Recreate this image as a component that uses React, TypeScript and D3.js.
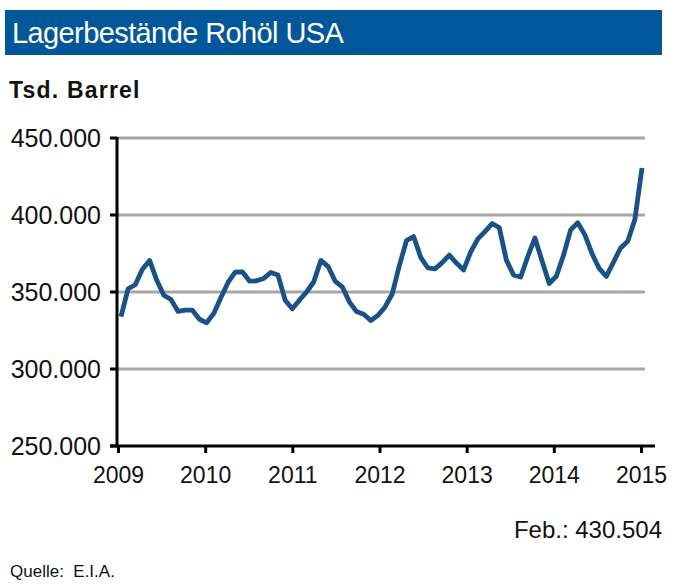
import React, { useEffect, useRef } from "react";
import * as d3 from "d3";

const title = "Lagerbestände Rohöl USA";
const unitLabel = "Tsd. Barrel";
const lastLabel = "Feb.: 430.504";
const sourceLabel = "Quelle:  E.I.A.";

// Monthly crude oil stocks, Jan 2009 – Feb 2015 (thousand barrels)
const months: string[] = [];
for (let y = 2009; y <= 2015; y++) {
  for (let m = 1; m <= 12; m++) {
    if (y === 2015 && m > 2) break;
    months.push(`${y}-${String(m).padStart(2, "0")}`);
  }
}
const stocks = [
  334.0, 352.1, 354.7, 364.7, 370.5, 357.8, 347.9, 345.1, 337.4, 338.2, 338.2, 332.3,
  330.0, 336.1, 346.4, 356.2, 362.9, 363.1, 357.1, 357.3, 358.8, 362.7, 361.0, 344.7,
  339.1, 344.7, 350.0, 356.5, 370.5, 366.7, 357.1, 353.4, 343.6, 337.3, 335.6, 331.5,
  334.8, 340.3, 348.7, 367.1, 383.4, 386.0, 372.5, 365.6, 365.0, 369.1, 374.0, 368.8,
  364.3, 376.0, 384.5, 389.2, 394.5, 391.8, 370.7, 361.0, 359.7, 373.1, 385.1, 370.1,
  355.5, 360.2, 373.8, 390.3, 395.0, 387.1, 374.9, 365.3, 360.1, 369.3, 378.6, 383.0,
  397.1, 430.5,
];
const yTicks = [250, 300, 350, 400, 450];
const yearTicks = [2009, 2010, 2011, 2012, 2013, 2014, 2015];

const fmt = (v: number) => `${v}.000`;

export default function App() {
  const ref = useRef<SVGSVGElement>(null);
  useEffect(() => {
    const svg = d3.select(ref.current);
    svg.selectAll("*").remove();
    const font = "'Liberation Sans', Arial, sans-serif";

    // title bar
    svg.append("rect").attr("x", 5).attr("y", 10).attr("width", 657).attr("height", 45).attr("fill", "#02579a");
    svg.append("text").attr("x", 12).attr("y", 43).attr("fill", "#fff")
      .attr("font-family", font).attr("font-size", 29).attr("letter-spacing", -0.6).text(title);
    svg.append("text").attr("x", 9).attr("y", 98).attr("fill", "#111")
      .attr("font-family", font).attr("font-size", 23).attr("font-weight", "bold").attr("letter-spacing", 1.2).text(unitLabel);

    const y = d3.scaleLinear().domain([250, 450]).range([446, 138]);
    const xi = d3.scaleLinear().domain([0, stocks.length - 1]).range([121, 642]);
    const xy = d3.scaleLinear().domain([2009, 2015]).range([118.5, 641.5]);

    // gridlines
    svg.append("g").selectAll("line").data(yTicks.filter((t) => t !== 250)).join("line")
      .attr("x1", 117).attr("x2", 645).attr("y1", (d) => y(d)).attr("y2", (d) => y(d))
      .attr("stroke", "#a6a6a6").attr("stroke-width", 3);

    // line
    const line = d3.line<number>().x((_, i) => xi(i)).y((d) => y(d));
    svg.append("path").datum(stocks).attr("d", line).attr("fill", "none")
      .attr("stroke", "#1a5186").attr("stroke-width", 4.8).attr("stroke-linejoin", "round");

    // y axis
    svg.append("line").attr("x1", 117).attr("x2", 117).attr("y1", 137).attr("y2", 447)
      .attr("stroke", "#000").attr("stroke-width", 3);
    svg.append("g").selectAll("line").data(yTicks).join("line")
      .attr("x1", 110).attr("x2", 117).attr("y1", (d) => y(d)).attr("y2", (d) => y(d))
      .attr("stroke", "#000").attr("stroke-width", 3);
    svg.append("g").selectAll("text").data(yTicks).join("text")
      .attr("x", 101).attr("y", (d) => y(d) + 9).attr("text-anchor", "end")
      .attr("font-family", font).attr("font-size", 25).attr("fill", "#111").text((d) => fmt(d));

    // x axis
    svg.append("line").attr("x1", 110).attr("x2", 655).attr("y1", 446).attr("y2", 446)
      .attr("stroke", "#000").attr("stroke-width", 3);
    svg.append("g").selectAll("line").data(yearTicks).join("line")
      .attr("x1", (d) => xy(d)).attr("x2", (d) => xy(d)).attr("y1", 446).attr("y2", 453)
      .attr("stroke", "#000").attr("stroke-width", 3);
    svg.append("g").selectAll("text").data(yearTicks).join("text")
      .attr("x", (d) => xy(d)).attr("y", 483).attr("text-anchor", "middle")
      .attr("font-family", font).attr("font-size", 23).attr("fill", "#111").text((d) => String(d));

    svg.append("text").attr("x", 662).attr("y", 538).attr("text-anchor", "end")
      .attr("font-family", font).attr("font-size", 24).attr("fill", "#111").text(lastLabel);
    svg.append("text").attr("x", 10).attr("y", 577).style("white-space", "pre")
      .attr("font-family", font).attr("font-size", 17).attr("fill", "#111").text(sourceLabel);
  }, []);
  return (
    <svg ref={ref} width={678} height={588} style={{ position: "absolute", left: 0, top: 0, background: "#fff" }} />
  );
}
